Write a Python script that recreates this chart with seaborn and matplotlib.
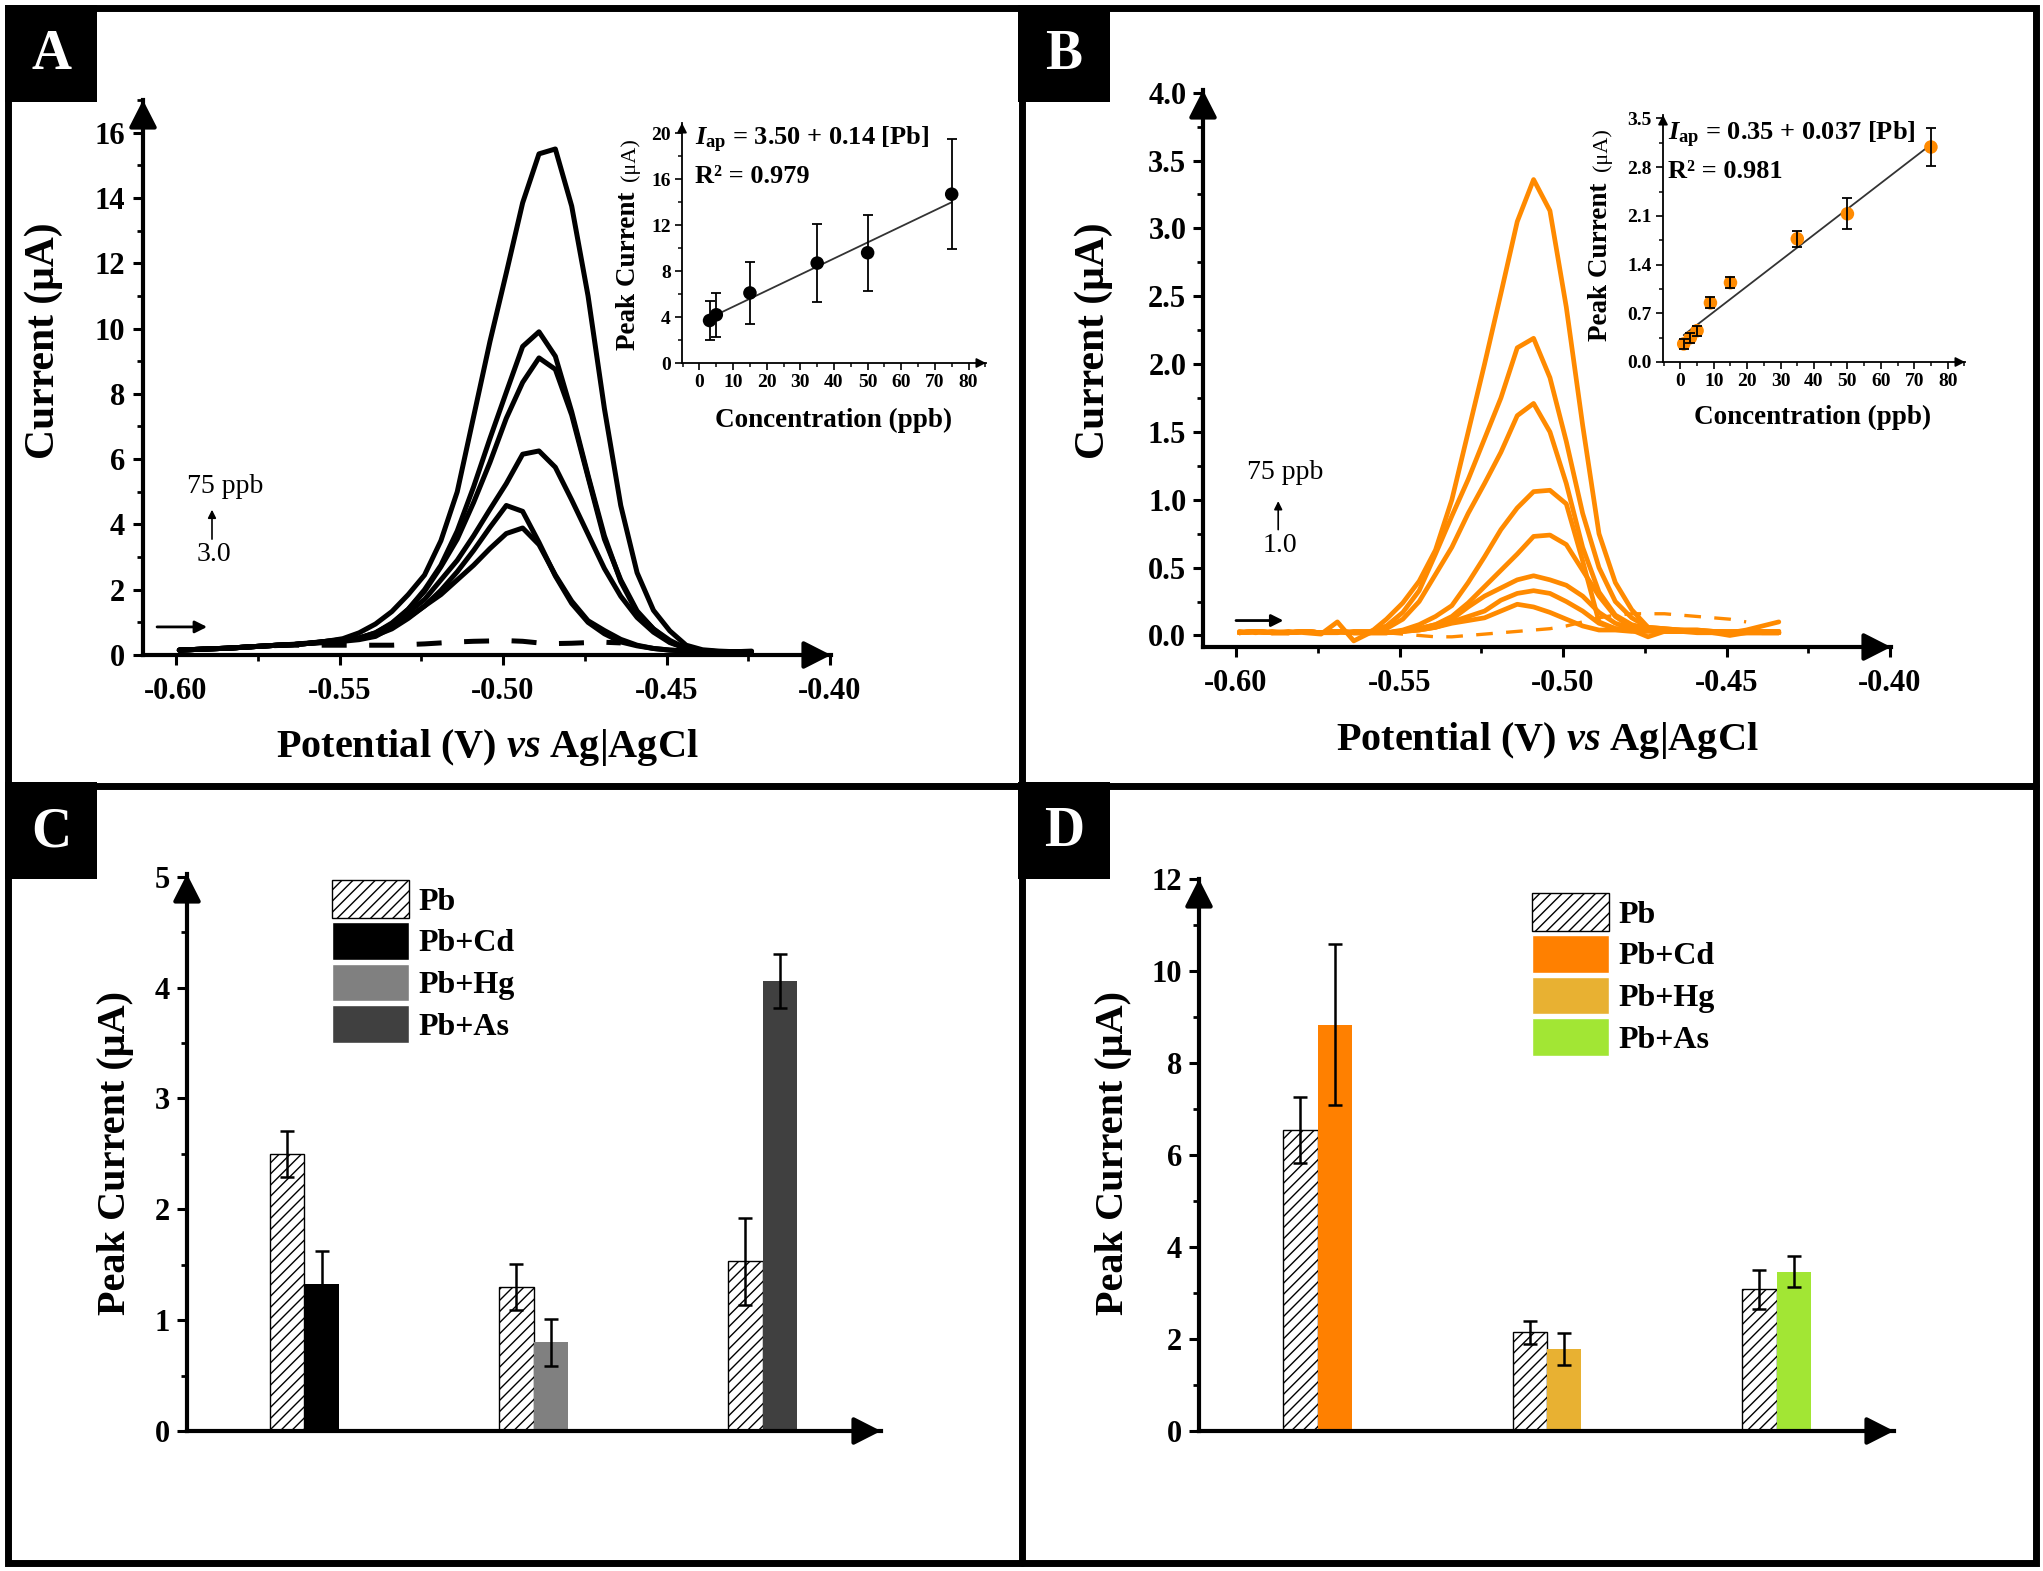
import numpy as np
import pandas as pd
import seaborn as sns
import matplotlib
matplotlib.use("Agg")
import matplotlib.pyplot as plt
from matplotlib.patches import Rectangle, Patch
from matplotlib.ticker import MultipleLocator, FormatStrFormatter

# ---------------------------------------------------------------- data
# Panel A: DPV curves (black), potential grid in V
E_A = [-0.599, -0.594, -0.589, -0.584, -0.579, -0.574, -0.569, -0.564, -0.559,
       -0.554, -0.549, -0.544, -0.539, -0.534, -0.529, -0.524, -0.519, -0.514,
       -0.509, -0.504, -0.499, -0.494, -0.489, -0.484, -0.479, -0.474, -0.469,
       -0.464, -0.459, -0.454, -0.449, -0.444, -0.439, -0.434, -0.429, -0.424]
A_75 = [0.15, 0.17, 0.19, 0.21, 0.24, 0.27, 0.30, 0.33, 0.37, 0.42, 0.50, 0.68,
        0.95, 1.33, 1.85, 2.45, 3.50, 5.00, 7.30, 9.60, 11.70, 13.85, 15.35, 15.50,
        13.75, 11.00, 7.55, 4.58, 2.52, 1.37, 0.74, 0.30, 0.16, 0.12, 0.10, 0.12]
A_50 = [0.15, 0.17, 0.19, 0.21, 0.24, 0.27, 0.30, 0.32, 0.36, 0.42, 0.47, 0.52,
        0.68, 0.98, 1.40, 2.00, 2.75, 3.80, 5.15, 6.63, 8.05, 9.45, 9.90, 9.15,
        7.45, 5.50, 3.65, 2.25, 1.30, 0.80, 0.45, 0.20, 0.14, 0.10, 0.10, 0.10]
A_35 = [0.15, 0.17, 0.19, 0.21, 0.24, 0.27, 0.30, 0.32, 0.36, 0.42, 0.47, 0.52,
        0.65, 0.95, 1.40, 1.95, 2.70, 3.55, 4.67, 5.90, 7.25, 8.35, 9.10, 8.75,
        7.35, 5.45, 3.55, 2.30, 1.35, 0.80, 0.40, 0.20, 0.13, 0.10, 0.10, 0.10]
A_15 = [0.15, 0.17, 0.19, 0.21, 0.24, 0.27, 0.30, 0.32, 0.36, 0.40, 0.45, 0.52,
        0.68, 0.95, 1.30, 1.70, 2.30, 2.90, 3.65, 4.46, 5.25, 6.15, 6.25, 5.75,
        4.75, 3.70, 2.65, 1.80, 1.15, 0.70, 0.38, 0.20, 0.12, 0.10, 0.10, 0.10]
A_5 = [0.15, 0.17, 0.19, 0.21, 0.24, 0.27, 0.30, 0.32, 0.36, 0.40, 0.45, 0.50,
       0.60, 0.80, 1.12, 1.50, 1.98, 2.55, 3.20, 3.91, 4.58, 4.40, 3.45, 2.42,
       1.58, 1.00, 0.65, 0.40, 0.28, 0.20, 0.15, 0.12, 0.10, 0.10, 0.10, 0.10]
A_3 = [0.15, 0.17, 0.19, 0.21, 0.24, 0.27, 0.30, 0.32, 0.36, 0.38, 0.42, 0.47,
       0.57, 0.85, 1.15, 1.50, 1.85, 2.30, 2.75, 3.26, 3.72, 3.89, 3.38, 2.45,
       1.65, 1.05, 0.75, 0.48, 0.30, 0.20, 0.15, 0.12, 0.10, 0.10, 0.10, 0.10]
A_blank = [0.15, 0.17, 0.19, 0.21, 0.24, 0.27, 0.29, 0.30, 0.30, 0.30, 0.30, 0.30,
           0.30, 0.30, 0.32, 0.34, 0.37, 0.40, 0.42, 0.43, 0.44, 0.42, 0.37, 0.35,
           0.36, 0.38, 0.39, 0.37]

# Panel B: DPV curves (orange)
E_B = E_A[:34]
B_75 = [0.02, 0.03, 0.02, 0.03, 0.02, 0.01, 0.10, -0.04, 0.02, 0.12, 0.24, 0.40,
        0.63, 1.00, 1.50, 2.00, 2.52, 3.05, 3.36, 3.13, 2.42, 1.55, 0.75, 0.39,
        0.19, 0.06, 0.05, 0.04, 0.04, 0.03, 0.02, 0.04, 0.07, 0.10]
B_50 = [0.03, 0.02, 0.03, 0.02, 0.03, 0.02, 0.02, 0.03, 0.03, 0.07, 0.17, 0.33,
        0.60, 0.88, 1.15, 1.45, 1.75, 2.12, 2.19, 1.90, 1.43, 0.90, 0.50, 0.25,
        0.13, 0.06, 0.05, 0.04, 0.04, 0.03, 0.03, 0.03, 0.02, 0.02]
B_35 = [0.02, 0.03, 0.02, 0.02, 0.03, 0.02, 0.03, 0.02, 0.02, 0.05, 0.12, 0.25,
        0.45, 0.65, 0.90, 1.12, 1.35, 1.62, 1.71, 1.50, 1.12, 0.65, 0.32, 0.15,
        0.08, 0.05, 0.04, 0.04, 0.03, 0.03, 0.02, 0.02, 0.03, 0.03]
B_15 = [0.02, 0.03, 0.02, 0.02, 0.03, 0.02, 0.03, 0.02, 0.02, 0.02, 0.04, 0.08,
        0.14, 0.22, 0.39, 0.58, 0.78, 0.94, 1.06, 1.07, 0.97, 0.55, 0.10, 0.05,
        0.05, 0.04, 0.03, 0.03, 0.03, 0.02, 0.02, 0.02, 0.02, 0.02]
B_9 = [0.02, 0.03, 0.02, 0.02, 0.03, 0.02, 0.03, 0.02, 0.02, 0.02, 0.03, 0.05,
       0.08, 0.14, 0.24, 0.36, 0.48, 0.60, 0.73, 0.74, 0.67, 0.48, 0.29, 0.14,
       0.06, 0.05, 0.04, 0.03, 0.03, 0.03, 0.02, 0.02, 0.02, 0.02]
B_5 = [0.02, 0.03, 0.02, 0.02, 0.03, 0.02, 0.03, 0.02, 0.02, 0.02, 0.03, 0.05,
       0.08, 0.12, 0.21, 0.29, 0.35, 0.41, 0.44, 0.41, 0.37, 0.29, 0.17, 0.09,
       0.05, 0.04, 0.03, 0.03, 0.03, 0.02, 0.02, 0.03, 0.03, 0.03]
B_3 = [0.02, 0.03, 0.02, 0.02, 0.03, 0.02, 0.03, 0.02, 0.02, 0.02, 0.03, 0.04,
       0.06, 0.10, 0.14, 0.18, 0.26, 0.31, 0.33, 0.31, 0.25, 0.18, 0.09, 0.05,
       0.04, -0.01, 0.03, 0.03, 0.02, 0.02, 0.00, 0.02, 0.02, 0.02]
B_1 = [0.02, 0.03, 0.02, 0.02, 0.03, 0.02, 0.03, 0.02, 0.02, 0.02, 0.03, 0.04,
       0.06, 0.09, 0.11, 0.13, 0.18, 0.23, 0.21, 0.17, 0.12, 0.07, 0.04, 0.04,
       0.03, 0.03, 0.03, 0.03, 0.03, 0.03, 0.02, 0.02, 0.02, 0.02]
E_B_blank = E_A[9:32]
B_blank = [0.02, 0.01, 0.00, -0.01, -0.01, 0.00, 0.01, 0.02, 0.03, 0.04, 0.05,
           0.07, 0.10, 0.13, 0.15, 0.16, 0.16, 0.16, 0.15, 0.14, 0.13, 0.12, 0.10]

# Insets: calibration
conc_A = [3, 5, 15, 35, 50, 75]
ip_A = [3.7, 4.2, 6.1, 8.7, 9.6, 14.7]
err_A = [1.7, 1.9, 2.7, 3.4, 3.3, 4.8]
fit_A = (3.50, 0.14)
fitx_A = [5, 75]

conc_B = [1, 3, 5, 9, 15, 35, 50, 75]
ip_B = [0.26, 0.35, 0.45, 0.85, 1.14, 1.77, 2.13, 3.09]
err_B = [0.07, 0.07, 0.07, 0.08, 0.08, 0.11, 0.22, 0.27]
fit_B = (0.35, 0.037)
fitx_B = [1, 75]

# Panels C and D: interference bars
groups = ["Cd", "Hg", "As"]
legend_labels = ["Pb", "Pb+Cd", "Pb+Hg", "Pb+As"]
C_pb = [2.50, 1.30, 1.53]
C_pb_err = [0.21, 0.21, 0.39]
C_mix = [1.33, 0.80, 4.06]
C_mix_err = [0.29, 0.21, 0.245]
D_pb = [6.55, 2.15, 3.08]
D_pb_err = [0.72, 0.25, 0.42]
D_mix = [8.84, 1.78, 3.47]
D_mix_err = [1.75, 0.35, 0.33]

ORANGE = "#FF8A00"
C_colors = ["#000000", "#808080", "#404040"]
D_colors = ["#FF8000", "#E8B132", "#A2E634"]

# ---------------------------------------------------------------- style
sns.set_theme(style="ticks")
plt.rcParams.update({
    "font.family": ["Liberation Serif", "DejaVu Serif"],
    "font.weight": "bold",
    "axes.labelweight": "bold",
    "axes.unicode_minus": False,
    "mathtext.fontset": "custom",
    "mathtext.rm": "Liberation Serif:bold",
    "mathtext.it": "Liberation Serif:italic:bold",
    "mathtext.bf": "Liberation Serif:bold",
    "hatch.linewidth": 1.0,
    "axes.edgecolor": "black",
    "xtick.color": "black",
    "ytick.color": "black",
    "text.color": "black",
})

W, H = 2043, 1571
fig = plt.figure(figsize=(W / 100, H / 100), dpi=100)
fig.patch.set_facecolor("white")


def rect(l, r, t, b):
    return [l / W, 1 - b / H, (r - l) / W, (b - t) / H]


def style(ax, lw, maj_len, tw, fs, pad=5, xpad=None, ms=28):
    for s in ("top", "right"):
        ax.spines[s].set_visible(False)
    for s in ("left", "bottom"):
        ax.spines[s].set_linewidth(lw)
        ax.spines[s].set_color("black")
    ax.patch.set_alpha(0)
    ax.tick_params(which="major", direction="out", length=maj_len, width=tw,
                   labelsize=fs, pad=pad, colors="black")
    if xpad is not None:
        ax.tick_params(axis="x", which="major", pad=xpad)
    ax.tick_params(which="minor", direction="out", length=maj_len * 0.6, width=tw * 0.9)
    kw = dict(arrowstyle="-|>,head_length=0.55,head_width=0.28", color="black",
              lw=lw, mutation_scale=ms, shrinkA=0, shrinkB=0)
    ax.annotate("", xy=(1, 0), xytext=(0.97, 0), xycoords="axes fraction",
                textcoords="axes fraction", arrowprops=kw, annotation_clip=False)
    ax.annotate("", xy=(0, 1), xytext=(0, 0.97), xycoords="axes fraction",
                textcoords="axes fraction", arrowprops=kw, annotation_clip=False)
    ax.set_xlabel("")
    ax.set_ylabel("")


# ---------------------------------------------------------------- Panel A
axA = fig.add_axes(rect(143, 831, 100, 655))
for vals in (A_3, A_5, A_15, A_35, A_50, A_75):
    sns.lineplot(x=E_A, y=vals, ax=axA, color="black", lw=3.6, sort=False,
                 estimator=None, legend=False)
sns.lineplot(x=E_A[:len(A_blank)], y=A_blank, ax=axA, color="black", lw=3.6,
             sort=False, estimator=None, legend=False, linestyle=(0, (5, 4.5)))
axA.set_xlim(-0.6101, -0.3997)
axA.set_ylim(0, 17.0)
axA.xaxis.set_major_locator(MultipleLocator(0.05))
axA.xaxis.set_minor_locator(MultipleLocator(0.025))
axA.xaxis.set_major_formatter(FormatStrFormatter("%.2f"))
axA.yaxis.set_major_locator(MultipleLocator(2))
axA.yaxis.set_minor_locator(MultipleLocator(1))
axA.yaxis.set_major_formatter(FormatStrFormatter("%d"))
style(axA, 3.0, 7, 2.2, 22, pad=6, xpad=9, ms=30)
axA.text(-0.585, 5.17, "75 ppb", ha="center", va="center", fontsize=20, fontweight="normal")
axA.text(-0.5884, 3.07, "3.0", ha="center", va="center", fontsize=20, fontweight="normal")
axA.annotate("", xy=(-0.589, 4.45), xytext=(-0.589, 3.55),
             arrowprops=dict(arrowstyle="-|>", lw=1.2, color="black", mutation_scale=12,
                             shrinkA=0, shrinkB=0))
axA.annotate("", xy=(-0.5905, 0.86), xytext=(-0.6058, 0.86),
             arrowprops=dict(arrowstyle="-|>", lw=2.0, color="black", mutation_scale=18,
                             shrinkA=0, shrinkB=0))

# inset A
axAi = fig.add_axes(rect(682, 986, 123, 363))
axAi.patch.set_facecolor("white")
sns.lineplot(x=fitx_A, y=[fit_A[0] + fit_A[1] * x for x in fitx_A], ax=axAi,
             color="#333333", lw=1.3, sort=False, estimator=None, legend=False)
axAi.errorbar(conc_A, ip_A, yerr=err_A, fmt="none", ecolor="black", elinewidth=1.3,
              capsize=3.5, capthick=1.3, zorder=2)
sns.scatterplot(x=conc_A, y=ip_A, ax=axAi, color="black", s=95, edgecolor="none",
                zorder=3, legend=False)
axAi.set_xlim(-5.2, 85.2)
axAi.set_ylim(0, 20.9)
axAi.xaxis.set_major_locator(MultipleLocator(10))
axAi.xaxis.set_minor_locator(MultipleLocator(5))
axAi.yaxis.set_major_locator(MultipleLocator(4))
axAi.yaxis.set_minor_locator(MultipleLocator(2))
style(axAi, 1.3, 5, 1.2, 14, pad=3, ms=10)
axAi.patch.set_alpha(1)

# ---------------------------------------------------------------- Panel B
axB = fig.add_axes(rect(1203, 1891, 90, 647))
for vals in (B_1, B_3, B_5, B_9, B_15, B_35, B_50, B_75):
    sns.lineplot(x=E_B, y=vals, ax=axB, color=ORANGE, lw=3.4, sort=False,
                 estimator=None, legend=False)
sns.lineplot(x=E_B_blank, y=B_blank, ax=axB, color=ORANGE, lw=2.4, sort=False,
             estimator=None, legend=False, linestyle=(0, (5, 4)))
axB.set_xlim(-0.6101, -0.3997)
axB.set_ylim(-0.085, 4.02)
axB.xaxis.set_major_locator(MultipleLocator(0.05))
axB.xaxis.set_minor_locator(MultipleLocator(0.025))
axB.xaxis.set_major_formatter(FormatStrFormatter("%.2f"))
axB.yaxis.set_major_locator(MultipleLocator(0.5))
axB.yaxis.set_minor_locator(MultipleLocator(0.25))
axB.yaxis.set_major_formatter(FormatStrFormatter("%.1f"))
style(axB, 3.0, 7, 2.2, 22, pad=5, xpad=9, ms=30)
axB.text(-0.5851, 1.2, "75 ppb", ha="center", va="center", fontsize=20, fontweight="normal")
axB.text(-0.5867, 0.66, "1.0", ha="center", va="center", fontsize=20, fontweight="normal")
axB.annotate("", xy=(-0.5871, 0.99), xytext=(-0.5871, 0.78),
             arrowprops=dict(arrowstyle="-|>", lw=1.2, color="black", mutation_scale=12,
                             shrinkA=0, shrinkB=0))
axB.annotate("", xy=(-0.5855, 0.11), xytext=(-0.600, 0.11),
             arrowprops=dict(arrowstyle="-|>", lw=2.0, color="black", mutation_scale=18,
                             shrinkA=0, shrinkB=0))

# inset B
axBi = fig.add_axes(rect(1663, 1965, 115, 362))
axBi.patch.set_facecolor("white")
sns.lineplot(x=fitx_B, y=[fit_B[0] + fit_B[1] * x for x in fitx_B], ax=axBi,
             color="#333333", lw=1.3, sort=False, estimator=None, legend=False)
sns.scatterplot(x=conc_B, y=ip_B, ax=axBi, color=ORANGE, s=95, edgecolor="none",
                zorder=3, legend=False)
axBi.errorbar(conc_B, ip_B, yerr=err_B, fmt="none", ecolor="black", elinewidth=1.3,
              capsize=3.5, capthick=1.3, zorder=4)
axBi.set_xlim(-5.2, 85.2)
axBi.set_ylim(0, 3.55)
axBi.xaxis.set_major_locator(MultipleLocator(10))
axBi.xaxis.set_minor_locator(MultipleLocator(5))
axBi.yaxis.set_major_locator(MultipleLocator(0.7))
axBi.yaxis.set_minor_locator(MultipleLocator(0.35))
axBi.yaxis.set_major_formatter(FormatStrFormatter("%.1f"))
style(axBi, 1.3, 5, 1.2, 14, pad=3, ms=10)
axBi.patch.set_alpha(1)


# ---------------------------------------------------------------- Panels C, D
def bar_panel(ax, pb, pb_err, mix, mix_err, colors, ylim, major, minor, xlim):
    df = pd.DataFrame({"group": groups * 2,
                       "kind": ["Pb"] * 3 + ["mix"] * 3,
                       "value": pb + mix})
    sns.barplot(data=df, x="group", y="value", hue="kind", order=groups,
                hue_order=["Pb", "mix"], width=0.3, errorbar=None, legend=False,
                saturation=1, ax=ax)
    bars = sorted(ax.patches, key=lambda p: p.get_x())
    centers_pb, centers_mix = [], []
    for i, p in enumerate(bars):
        g, k = divmod(i, 2)
        if k == 0:
            p.set_facecolor("white")
            p.set_edgecolor("black")
            p.set_hatch("///")
            p.set_linewidth(1.0)
            centers_pb.append(p.get_x() + p.get_width() / 2)
        else:
            p.set_facecolor(colors[g])
            p.set_edgecolor("none")
            p.set_linewidth(0)
            centers_mix.append(p.get_x() + p.get_width() / 2)
    ekw = dict(fmt="none", ecolor="black", elinewidth=1.8, capsize=5, capthick=1.8, zorder=4)
    ax.errorbar(centers_pb, pb, yerr=pb_err, **ekw)
    ax.errorbar(centers_mix, mix, yerr=mix_err, **ekw)
    ax.set_xlim(*xlim)
    ax.set_ylim(*ylim)
    ax.set_xticks([])
    ax.yaxis.set_major_locator(MultipleLocator(major))
    ax.yaxis.set_minor_locator(MultipleLocator(minor))
    ax.yaxis.set_major_formatter(FormatStrFormatter("%d"))
    style(ax, 3.0, 7, 2.2, 22, pad=5, ms=30)


axC = fig.add_axes(rect(187, 881, 874, 1431))
bar_panel(axC, C_pb, C_pb_err, C_mix, C_mix_err, C_colors, (0, 5.025), 1, 0.5,
          (-0.513, 2.517))
axD = fig.add_axes(rect(1199, 1894, 879, 1431))
bar_panel(axD, D_pb, D_pb_err, D_mix, D_mix_err, D_colors, (0, 12.01), 2, 1,
          (-0.517, 2.512))

leg_prop = dict(family="Liberation Serif", weight="bold", size=23)
for cols, (lx, ly) in ((C_colors, (332, 880)), (D_colors, (1532, 893))):
    handles = [Patch(facecolor="white", edgecolor="black", hatch="///", linewidth=1.0)]
    handles += [Patch(facecolor=c, edgecolor="white", linewidth=1.0) for c in cols]
    fig.legend(handles, legend_labels, loc="upper left",
               bbox_to_anchor=(lx / W, 1 - ly / H), frameon=False, prop=leg_prop,
               handlelength=2.4, handleheight=1.45, labelspacing=0.12,
               handletextpad=0.3, borderpad=0, borderaxespad=0)

# ---------------------------------------------------------------- overlay: frames, labels
ov = fig.add_axes([0, 0, 1, 1])
ov.set_xlim(0, W)
ov.set_ylim(H, 0)
ov.axis("off")
ov.patch.set_alpha(0)

flw = 5.0
ov.plot([8, 2036, 2036, 8, 8], [8, 8, 1563, 1563, 8], color="black", lw=flw,
        solid_joinstyle="miter")
ov.plot([1021.5, 1021.5], [8, 1563], color="black", lw=flw)
ov.plot([8, 2036], [786, 786], color="black", lw=flw)
for (x0, y0, lab) in ((5, 5, "A"), (1018, 5, "B"), (5, 782, "C"), (1018, 782, "D")):
    ov.add_patch(Rectangle((x0, y0), 92, 97, facecolor="black", edgecolor="none"))
    ov.text(x0 + 46, y0 + 50, lab, color="white", fontsize=40, fontweight="bold",
            ha="center", va="center")

lab_kw = dict(fontweight="bold", ha="center", va="center")
ov.text(44, 341, "Current (μA)", rotation=90, fontsize=30, **lab_kw)
ov.text(487, 747, r"Potential (V) $\mathit{vs}$ Ag|AgCl", fontsize=29, **lab_kw)
ov.text(1094, 341, "Current (μA)", rotation=90, fontsize=30, **lab_kw)
ov.text(1547, 740, r"Potential (V) $\mathit{vs}$ Ag|AgCl", fontsize=29, **lab_kw)
ov.text(115, 1153, "Peak Current (μA)", rotation=90, fontsize=29, **lab_kw)
ov.text(1114, 1153, "Peak Current (μA)", rotation=90, fontsize=29, **lab_kw)

# inset texts
ov.text(695, 145, r"$I_{\mathrm{ap}}$ = 3.50 + 0.14 [Pb]", fontsize=19, ha="left",
        va="baseline", fontweight="bold")
ov.text(695, 183, "R² = 0.979", fontsize=19, ha="left", va="baseline", fontweight="bold")
ov.text(834, 420, "Concentration (ppb)", fontsize=19.5, **lab_kw)
ov.text(635, 271, "Peak Current", rotation=90, rotation_mode="anchor", ha="center",
        va="baseline", fontsize=19.5, fontweight="bold")
ov.text(635, 160, "(μA)", rotation=90, rotation_mode="anchor", ha="center",
        va="baseline", fontsize=16, fontweight="normal")

ov.text(1668, 140, r"$I_{\mathrm{ap}}$ = 0.35 + 0.037 [Pb]", fontsize=19, ha="left",
        va="baseline", fontweight="bold")
ov.text(1668, 178, "R² = 0.981", fontsize=19, ha="left", va="baseline", fontweight="bold")
ov.text(1813, 417, "Concentration (ppb)", fontsize=19.5, **lab_kw)
ov.text(1607, 262, "Peak Current", rotation=90, rotation_mode="anchor", ha="center",
        va="baseline", fontsize=19.5, fontweight="bold")
ov.text(1607, 150, "(μA)", rotation=90, rotation_mode="anchor", ha="center",
        va="baseline", fontsize=16, fontweight="normal")

fig.savefig("out.png", dpi=100, facecolor="white")
